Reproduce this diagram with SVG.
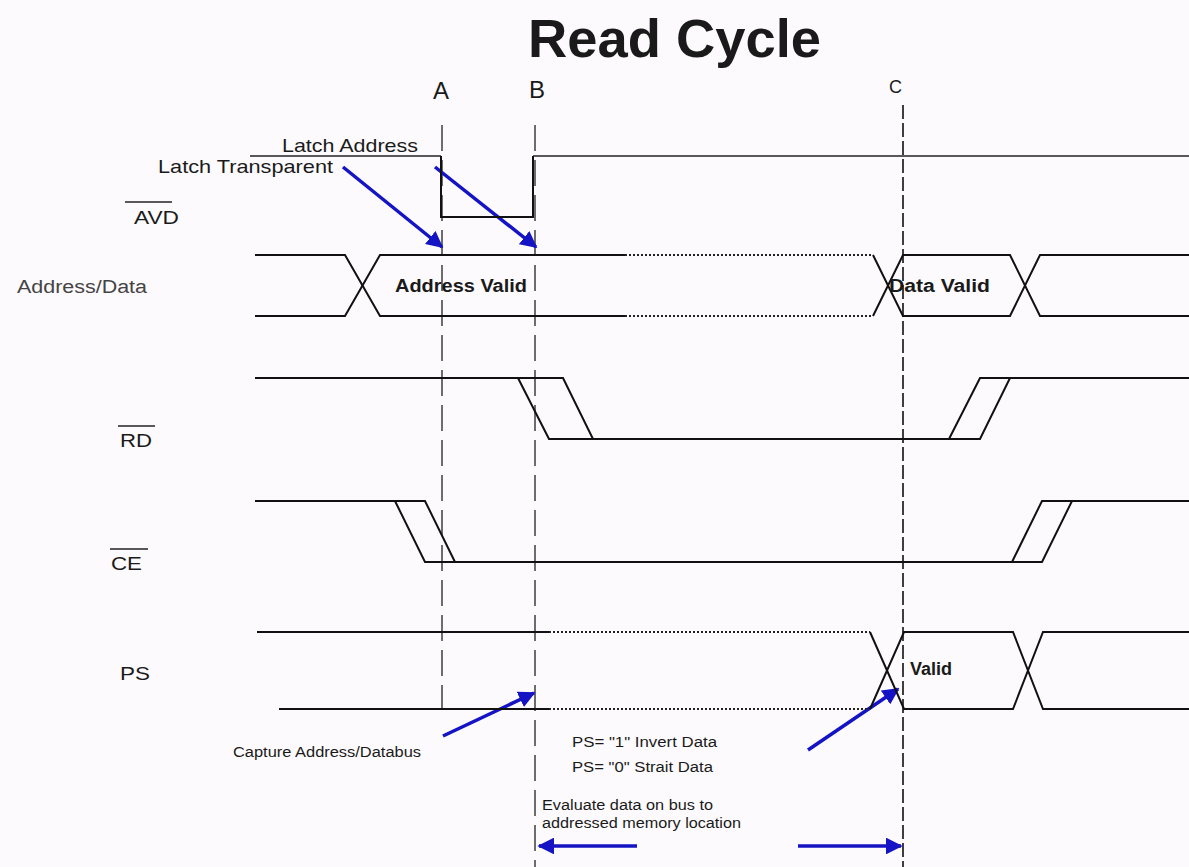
<svg xmlns="http://www.w3.org/2000/svg" width="1189" height="867" viewBox="0 0 1189 867">
<style>
.bg{fill:#fdfafd}
.t{font-family:"Liberation Sans",Arial,sans-serif;fill:#1a1a1a}
.lbl{font-size:19px}
.small{font-size:14px}
.b{font-weight:bold}
.sig{fill:none;stroke:#111;stroke-width:2;stroke-linejoin:miter}
.thin{fill:none;stroke:#222;stroke-width:1.3}
.dot{fill:none;stroke:#222;stroke-width:2;stroke-dasharray:2 2}
.dash{fill:none;stroke:#222;stroke-width:1.3;stroke-dasharray:26 9}
.dashc{fill:none;stroke:#111;stroke-width:1.6;stroke-dasharray:14 4}
.ov{stroke:#222;stroke-width:1.5}
.arr{fill:none;stroke:#1414c4;stroke-width:3.5}
</style>
<defs>
<marker id="ah" viewBox="0 0 10 10" refX="9" refY="5" markerWidth="4.8" markerHeight="4.8" orient="auto" markerUnits="strokeWidth">
<path d="M0,0 L10,5 L0,10 z" fill="#1414c4"/>
</marker>
</defs>
<rect class="bg" x="0" y="0" width="1189" height="867"/>

<g id="title">
<text class="t b" x="528" y="57" font-size="53" textLength="293" lengthAdjust="spacingAndGlyphs">Read Cycle</text>
</g>

<g id="markers">
<text class="t" x="433" y="99" font-size="24">A</text>
<text class="t" x="529" y="98" font-size="24">B</text>
<text class="t" x="889" y="93" font-size="18">C</text>
</g>

<g id="connectors">
<line class="dash" x1="442" y1="125" x2="442" y2="709"/>
<line class="dash" x1="535" y1="125" x2="535" y2="867"/>
<line class="dashc" x1="903" y1="105" x2="903" y2="867"/>
<line class="arr" x1="343" y1="167" x2="442" y2="247" marker-end="url(#ah)"/>
<line class="arr" x1="435" y1="167" x2="536" y2="247" marker-end="url(#ah)"/>
<line class="arr" x1="443" y1="736" x2="534" y2="693" marker-end="url(#ah)"/>
<line class="arr" x1="808" y1="750" x2="898" y2="689" marker-end="url(#ah)"/>
<line class="arr" x1="637" y1="846" x2="539" y2="846" marker-end="url(#ah)"/>
<line class="arr" x1="798" y1="846" x2="901" y2="846" marker-end="url(#ah)"/>
</g>

<g id="avd">
<text class="t lbl" x="134" y="224" textLength="45" lengthAdjust="spacingAndGlyphs">AVD</text>
<line class="ov" x1="125" y1="202" x2="172" y2="202"/>
<line class="thin" x1="250" y1="156" x2="441" y2="156"/>
<polyline class="sig" points="441,156 441,217 533,217 533,156"/>
<line class="thin" x1="533" y1="156" x2="1189" y2="156"/>
<text class="t lbl" x="282" y="152" textLength="136" lengthAdjust="spacingAndGlyphs">Latch Address</text>
<text class="t lbl" x="158" y="173" textLength="175" lengthAdjust="spacingAndGlyphs">Latch Transparent</text>
</g>

<g id="address-data">
<text class="t" x="17" y="293" font-size="18" style="fill:#444" textLength="130" lengthAdjust="spacingAndGlyphs">Address/Data</text>
<polyline class="sig" points="255,255 345,255 380,316 625,316"/>
<polyline class="sig" points="255,316 345,316 380,255 625,255"/>
<line class="dot" x1="625" y1="255" x2="873" y2="255"/>
<line class="dot" x1="625" y1="316" x2="873" y2="316"/>
<polyline class="sig" points="873,255 903,316 1010,316 1040,255 1189,255"/>
<polyline class="sig" points="873,316 903,255 1010,255 1040,316 1189,316"/>
<text class="t b" x="395" y="292" font-size="18" textLength="132" lengthAdjust="spacingAndGlyphs">Address Valid</text>
<text class="t b" x="889" y="292" font-size="18" textLength="101" lengthAdjust="spacingAndGlyphs">Data Valid</text>
</g>

<g id="rd">
<text class="t lbl" x="120" y="447" textLength="32" lengthAdjust="spacingAndGlyphs">RD</text>
<line class="ov" x1="118" y1="426" x2="155" y2="426"/>
<polyline class="sig" points="255,378 563,378 593,439"/>
<polyline class="sig" points="518,378 549,439 980,439 1010,378 1189,378"/>
<polyline class="sig" points="949,439 980,378 1010,378"/>
</g>

<g id="ce">
<text class="t lbl" x="111" y="570" textLength="31" lengthAdjust="spacingAndGlyphs">CE</text>
<line class="ov" x1="110" y1="549" x2="148" y2="549"/>
<polyline class="sig" points="255,501 425,501 455,562"/>
<polyline class="sig" points="395,501 425,562 1042,562 1072,501 1189,501"/>
<polyline class="sig" points="1012,562 1042,501 1072,501"/>
</g>

<g id="ps">
<text class="t lbl" x="120" y="680" textLength="30" lengthAdjust="spacingAndGlyphs">PS</text>
<line class="sig" x1="257" y1="632" x2="549" y2="632"/>
<line class="sig" x1="279" y1="709" x2="549" y2="709"/>
<line class="dot" x1="549" y1="632" x2="870" y2="632"/>
<line class="dot" x1="549" y1="709" x2="870" y2="709"/>
<polyline class="sig" points="870,632 904,709 1013,709 1043,632 1189,632"/>
<polyline class="sig" points="870,709 904,632 1013,632 1043,709 1189,709"/>
<text class="t b" x="910" y="675" font-size="18">Valid</text>
</g>

<g id="notes">
<text class="t small" x="233" y="757" textLength="188" lengthAdjust="spacingAndGlyphs">Capture Address/Databus</text>
<text class="t small" x="572" y="747" textLength="145" lengthAdjust="spacingAndGlyphs">PS= "1" Invert Data</text>
<text class="t small" x="572" y="772" textLength="141" lengthAdjust="spacingAndGlyphs">PS= "0" Strait Data</text>
<text class="t small" x="542" y="810" textLength="171" lengthAdjust="spacingAndGlyphs">Evaluate data on bus to</text>
<text class="t small" x="542" y="828" textLength="199" lengthAdjust="spacingAndGlyphs">addressed memory location</text>
</g>
</svg>
